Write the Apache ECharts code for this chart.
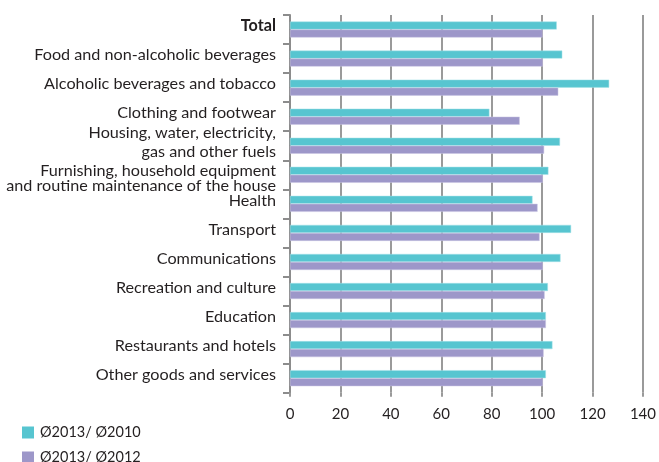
<!DOCTYPE html>
<html>
<head>
<meta charset="utf-8">
<script src="https://cdn.jsdelivr.net/npm/echarts@6/dist/echarts.min.js"></script>
<style>
html,body{margin:0;padding:0;background:#fff;}
#chart{width:659px;height:462px;}
</style>
</head>
<body>
<div id="chart"></div>
<script>
const categories = [
  'Total',
  'Food and non-alcoholic beverages',
  'Alcoholic beverages and tobacco',
  'Clothing and footwear',
  'Housing, water, electricity,\ngas and other fuels',
  'Furnishing, household equipment\nand routine maintenance of the house',
  'Health',
  'Transport',
  'Communications',
  'Recreation and culture',
  'Education',
  'Restaurants and hotels',
  'Other goods and services'
];
const seriesNames = ['Ø2013/ Ø2010', 'Ø2013/ Ø2012'];
const values2010 = [105.8, 108.0, 126.6, 79.1, 107.1, 102.5, 96.2, 111.5, 107.3, 102.3, 101.5, 104.1, 101.5];
const values2012 = [100.2, 100.3, 106.4, 91.1, 100.8, 100.3, 98.2, 99.0, 100.3, 101.0, 101.5, 100.6, 100.3];
const xTicks = { min: 0, max: 140, interval: 20 };

const FONT = 'Lato';
// per-label vertical tweaks (style only)
const labelStyleFor = function (name, i) {
  if (i === 5) return { lineHeight: 15, padding: [7, 0, 0, 0] };
  return { lineHeight: 19, padding: [0, 0, 7, 0] };
};
const yData = categories.map(function (c, i) {
  return { value: c, textStyle: labelStyleFor(c, i) };
});

const chart = echarts.init(document.getElementById('chart'), null, {renderer: 'canvas'});
chart.setOption({
  animation: false,
  backgroundColor: '#fff',
  textStyle: { fontFamily: FONT },
  grid: { left: 290, right: 10, top: 15, bottom: 69.3, containLabel: false },
  legend: {
    orient: 'vertical',
    left: 22, top: 425, height: 60, padding: 0,
    itemWidth: 12, itemHeight: 12, itemGap: 10,
    icon: 'rect',
    itemStyle: { borderWidth: 0 },
    textStyle: { fontFamily: FONT, fontSize: 14.5, color: '#231f20', lineHeight: 14, padding: [0,0,0,1] },
    data: seriesNames
  },
  xAxis: {
    type: 'value',
    min: xTicks.min, max: xTicks.max, interval: xTicks.interval,
    axisLine: { show: false },
    axisTick: { show: true, length: 4, lineStyle: { color: '#9a9a9a', width: 2 } },
    splitLine: { show: true, lineStyle: { color: '#9a9a9a', width: 2 } },
    axisLabel: { fontFamily: FONT, fontSize: 15, color: '#231f20', margin: 14 }
  },
  yAxis: {
    type: 'category',
    inverse: true,
    data: yData,
    axisLine: { show: true, lineStyle: { color: '#8c8c8c', width: 2 } },
    axisTick: { show: true, length: 7, lineStyle: { color: '#8c8c8c', width: 2 } },
    axisLabel: {
      interval: 0,
      margin: 14,
      fontFamily: FONT, fontSize: 16.2, color: '#231f20',
      lineHeight: 19,
      formatter: function (v) { return v === 'Total' ? '{b|' + v + '}' : v; },
      rich: { b: { fontWeight: 'bold', fontFamily: FONT, fontSize: 16.2, color: '#231f20' } }
    }
  },
  series: [
    {
      name: seriesNames[0], type: 'bar', data: values2010,
      barWidth: 8, barGap: '0%',
      itemStyle: { color: '#57c5d0', borderColor: '#a6e2e8', borderWidth: 0.5 }
    },
    {
      name: seriesNames[1], type: 'bar', data: values2012,
      barWidth: 8, barGap: '0%',
      itemStyle: { color: '#9d97c9', borderColor: '#c9c5e3', borderWidth: 0.5 }
    }
  ]
});
</script>
</body>
</html>
